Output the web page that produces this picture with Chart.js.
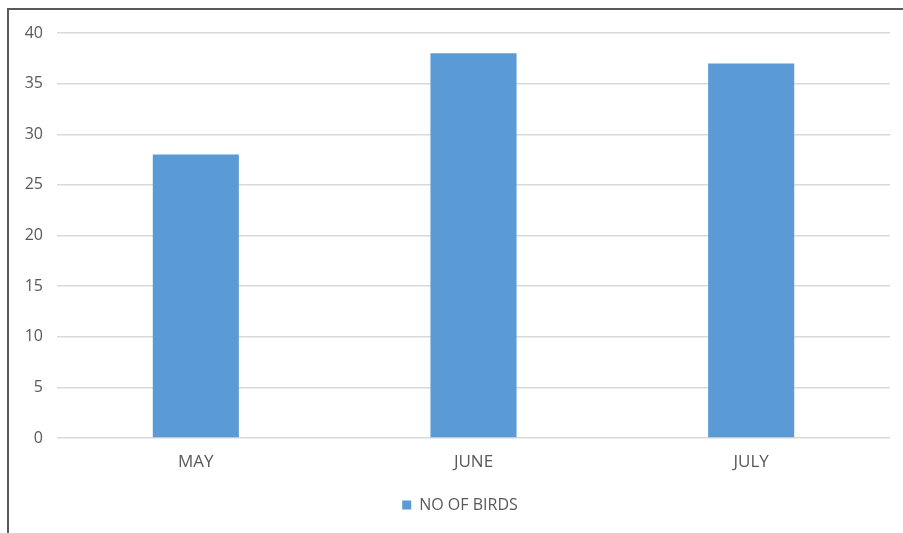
<!DOCTYPE html>
<html>
<head>
<meta charset="utf-8">
<script src="https://cdn.jsdelivr.net/npm/chart.js@4"></script>
<style>
  html, body { margin: 0; padding: 0; background: #fff; }
  #wrap { position: relative; width: 903px; height: 533px; overflow: hidden; }
  #frame { position: absolute; left: 7px; top: 8px; right: -10px; bottom: -10px;
           border-left: 2px solid #5a5a5a; border-top: 2px solid #5a5a5a; pointer-events: none; }
  canvas { position: absolute; left: 0; top: 0; }
</style>
</head>
<body>
<div id="wrap">
  <canvas id="chart" width="903" height="533"></canvas>
  <div id="frame"></div>
</div>
<script>
// chart data
const months = ['MAY', 'JUNE', 'JULY'];
const birds = [28, 38, 37];
const seriesLabel = 'NO OF BIRDS';

const barColor = '#5B9BD5';
const textColor = '#595959';
const gridColor = '#d9d9d9';
const fontFamily = "'Open Sans', 'Noto Sans', sans-serif";

// legend in the original sits a bit right of canvas centre
const legendShift = {
    id: 'legendShift',
    afterLayout(chart) {
        if (chart.legend) chart.legend.left += 30;
    }
};

new Chart(document.getElementById('chart').getContext('2d'), {
    type: 'bar',
    data: {
        labels: months,
        datasets: [{
            label: seriesLabel,
            data: birds,
            backgroundColor: barColor,
            borderWidth: 0,
            categoryPercentage: 1,
            barPercentage: 0.31
        }]
    },
    plugins: [legendShift],
    options: {
        responsive: false,
        animation: false,
        layout: { padding: { left: 0, right: 13, top: 33, bottom: 10 } },
        plugins: {
            tooltip: { enabled: false },
            legend: {
                position: 'bottom',
                labels: {
                    color: textColor,
                    font: { family: fontFamily, size: 16 },
                    boxWidth: 9,
                    boxHeight: 9,
                    padding: 19
                }
            }
        },
        scales: {
            x: {
                grid: { display: false, drawTicks: false },
                border: { display: false },
                ticks: { color: textColor, font: { family: fontFamily, size: 17 }, padding: 14 },
                afterFit: (s) => { s.height = 40; }
            },
            y: {
                min: 0,
                max: 40,
                ticks: { stepSize: 5, color: textColor, font: { family: fontFamily, size: 16 }, padding: 14 },
                grid: { color: gridColor, lineWidth: 1.5, drawTicks: false },
                border: { display: false },
                afterFit: (s) => { s.width = 57; }
            }
        }
    }
});
</script>
</body>
</html>
